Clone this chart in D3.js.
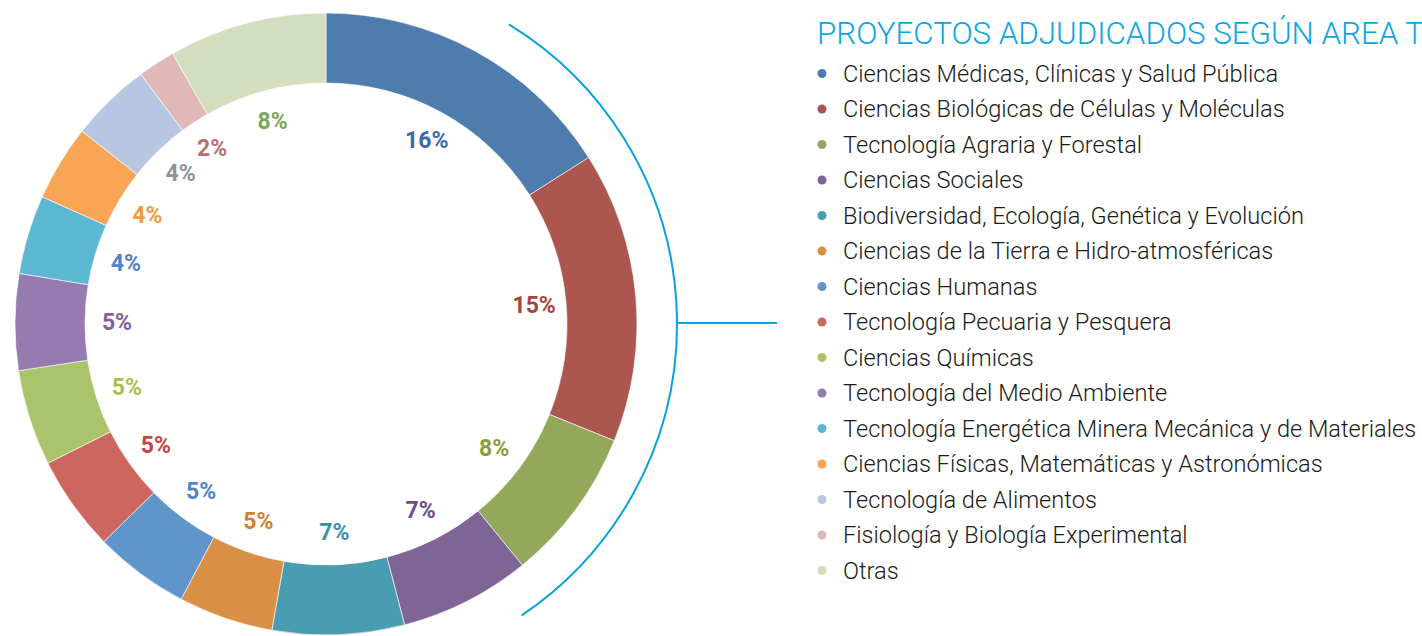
<!DOCTYPE html>
<html>
<head>
<meta charset="utf-8">
<script src="https://cdn.jsdelivr.net/npm/d3@7"></script>
<style>
  html, body { margin: 0; padding: 0; background: #fff; overflow: hidden; }
  svg { display: block; }
</style>
</head>
<body>
<svg id="chart" width="1422" height="636"></svg>
<script>
// ---- Data ----
const categories = [
  "Ciencias Médicas, Clínicas y Salud Pública",
  "Ciencias Biológicas de Células y Moléculas",
  "Tecnología Agraria y Forestal",
  "Ciencias Sociales",
  "Biodiversidad, Ecología, Genética y Evolución",
  "Ciencias de la Tierra e Hidro-atmosféricas",
  "Ciencias Humanas",
  "Tecnología Pecuaria y Pesquera",
  "Ciencias Químicas",
  "Tecnología del Medio Ambiente",
  "Tecnología Energética Minera Mecánica y de Materiales",
  "Ciencias Físicas, Matemáticas y Astronómicas",
  "Tecnología de Alimentos",
  "Fisiología y Biología Experimental",
  "Otras"
];
const values = [16.0, 15.1, 8.0, 6.8, 6.85, 4.92, 4.95, 4.95, 4.98, 5.0, 4.1, 3.94, 4.2, 1.94, 8.2];
const sliceColors = [
  "#4E7DAD", "#AD5650", "#93A85A", "#7E6596", "#4A9DB1",
  "#D98F46", "#5F95C8", "#CC665F", "#ABC46C", "#957BB0",
  "#5CB8D2", "#F8A656", "#B8C7E1", "#E0B8B7", "#D2DEBD"
];
const labelColors = [
  "#3A6BAA", "#A24641", "#869F3B", "#6A4C8C", "#3A91A5",
  "#D2802E", "#4E86C6", "#C6453F", "#A7BF4C", "#80609F",
  "#4E82CE", "#F29A3C", "#8E929E", "#B8716C", "#7CA65E"
];
const title = "PROYECTOS ADJUDICADOS SEGÚN AREA TEMÁTICA";

// ---- Layout ----
const svg = d3.select("#chart");
const cx = 326, cy = 324;
const outerR = 311, innerR = 241, labelR = 209;
const bracketR = 351;

const total = d3.sum(values);
const data = categories.map((c, i) => ({ name: c, value: values[i], i }));

const pie = d3.pie().sort(null).value(d => d.value);
const arcs = pie(data);
const arcGen = d3.arc().innerRadius(innerR).outerRadius(outerR);

const g = svg.append("g").attr("transform", `translate(${cx},${cy})`);

g.selectAll("path.slice")
  .data(arcs)
  .join("path")
  .attr("class", "slice")
  .attr("d", arcGen)
  .attr("fill", d => sliceColors[d.data.i])
  .attr("stroke", "#ffffff")
  .attr("stroke-width", 0.6);

const labelArc = d3.arc().innerRadius(labelR).outerRadius(labelR);
g.selectAll("text.pct")
  .data(arcs)
  .join("text")
  .attr("class", "pct")
  .attr("transform", d => `translate(${labelArc.centroid(d)})`)
  .attr("text-anchor", "middle")
  .attr("dominant-baseline", "central")
  .attr("font-family", "Roboto, 'Open Sans', sans-serif")
  .attr("font-weight", 700)
  .attr("font-size", 23)
  .attr("fill", d => labelColors[d.data.i])
  .text(d => Math.round(d.data.value / total * 100) + "%");

// bracket arc on the right
const bracket = d3.arc()
  .innerRadius(bracketR).outerRadius(bracketR)
  .startAngle(31.4 * Math.PI / 180)
  .endAngle(146.1 * Math.PI / 180);
g.append("path")
  .attr("d", bracket())
  .attr("fill", "none")
  .attr("stroke", "#0AA0DF")
  .attr("stroke-width", 2);
g.append("line")
  .attr("x1", bracketR).attr("y1", -1)
  .attr("x2", 777 - cx).attr("y2", -1)
  .attr("stroke", "#0AA0DF")
  .attr("stroke-width", 2);

// title (runs past the right edge, as in the original)
svg.append("text")
  .attr("x", 817).attr("y", 44)
  .attr("font-family", "Roboto, sans-serif")
  .attr("font-weight", 300)
  .attr("font-size", 31.3)
  .attr("fill", "#0AA5E3")
  .text(title);

// legend
const legendY = d3.scaleLinear().domain([0, 1]).range([73.5, 109]);
const leg = svg.append("g");
const rows = leg.selectAll("g.row")
  .data(data)
  .join("g")
  .attr("class", "row")
  .attr("transform", d => `translate(0,${legendY(d.i)})`);
rows.append("circle")
  .attr("cx", 822).attr("cy", 0).attr("r", 4.5)
  .attr("fill", d => sliceColors[d.i]);
rows.append("text")
  .attr("x", 843).attr("y", 0)
  .attr("dominant-baseline", "central")
  .attr("font-family", "Roboto, sans-serif")
  .attr("font-weight", 300)
  .attr("font-size", 23.6)
  .attr("fill", "#1a1a1a")
  .text(d => d.name);
</script>
</body>
</html>
